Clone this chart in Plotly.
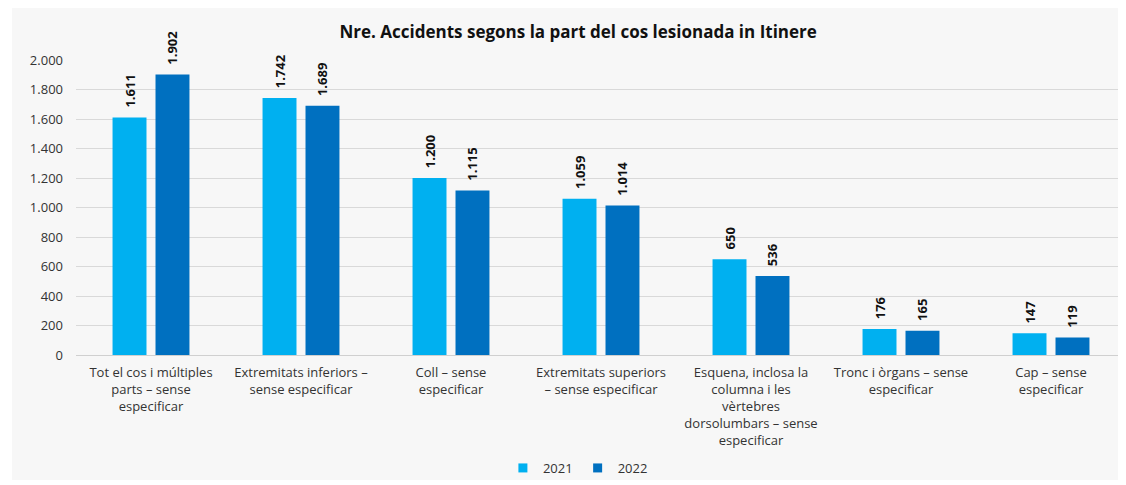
import plotly.graph_objects as go

categories = [
    "Tot el cos i múltiples<br>parts – sense<br>especificar",
    "Extremitats inferiors –<br>sense especificar",
    "Coll – sense<br>especificar",
    "Extremitats superiors<br>– sense especificar",
    "Esquena, inclosa la<br>columna i les<br>vèrtebres<br>dorsolumbars – sense<br>especificar",
    "Tronc i òrgans – sense<br>especificar",
    "Cap – sense<br>especificar",
]
values_2021 = [1611, 1742, 1200, 1059, 650, 176, 147]
values_2022 = [1902, 1689, 1115, 1014, 536, 165, 119]
series_names = ["2021", "2022"]
colors = ["#00B0F0", "#0070C0"]

FONT = "Open Sans, Lato, sans-serif"

fig = go.Figure()
for name, vals, col in zip(series_names, [values_2021, values_2022], colors):
    fig.add_trace(go.Bar(
        x=categories, y=vals, name=name, showlegend=False,
        marker=dict(color=col, line=dict(width=0)),
        text=vals, texttemplate="\u00a0\u00a0%{y:,}",
        textposition="outside", textangle=-90, constraintext="none",
        textfont=dict(family=FONT, size=13, color="#111111", weight="bold"),
        cliponaxis=False,
    ))
    # legend entry with small square marker
    fig.add_trace(go.Scatter(
        x=[None], y=[None], mode="markers", name=name,
        marker=dict(symbol="square", size=9, color=col),
    ))

fig.update_layout(
    width=1118, height=477,
    paper_bgcolor="white", plot_bgcolor="rgba(0,0,0,0)",
    separators=",.",
    barmode="group", bargap=0.427, bargroupgap=0.21,
    margin=dict(l=68, r=0, t=52, b=130),
    font=dict(family=FONT, size=13, color="#333333"),
    title=dict(text="<b>Nre. Accidents segons la part del cos lesionada in Itinere</b>",
               x=0.51, xanchor="center", y=0.95, yanchor="middle",
               font=dict(family=FONT, size=17, color="#111111")),
    legend=dict(orientation="h", x=0.478, xanchor="center", y=-0.383, yanchor="middle",
                font=dict(family=FONT, size=13, color="#333333"),
                traceorder="normal", itemwidth=30, bgcolor="rgba(0,0,0,0)"),
    shapes=[dict(type="rect", xref="paper", yref="paper",
                 x0=-64/1050, x1=1.0, y0=-125/295, y1=1 + 54/295,
                 fillcolor="#f7f7f7", line=dict(width=0), layer="below")],
    xaxis=dict(tickfont=dict(family=FONT, size=13, color="#333333"), showline=False,
               ticks="", tickangle=0, ticklabelstandoff=8),
    yaxis=dict(range=[0, 2000], dtick=200, tickformat=",d", gridcolor="#d9d9d9",
               zeroline=True, zerolinecolor="#d0d0d0", zerolinewidth=1,
               tickfont=dict(family=FONT, size=13, color="#333333"), ticks="",
               ticklabelstandoff=12),
)

fig.write_html("out.html")
